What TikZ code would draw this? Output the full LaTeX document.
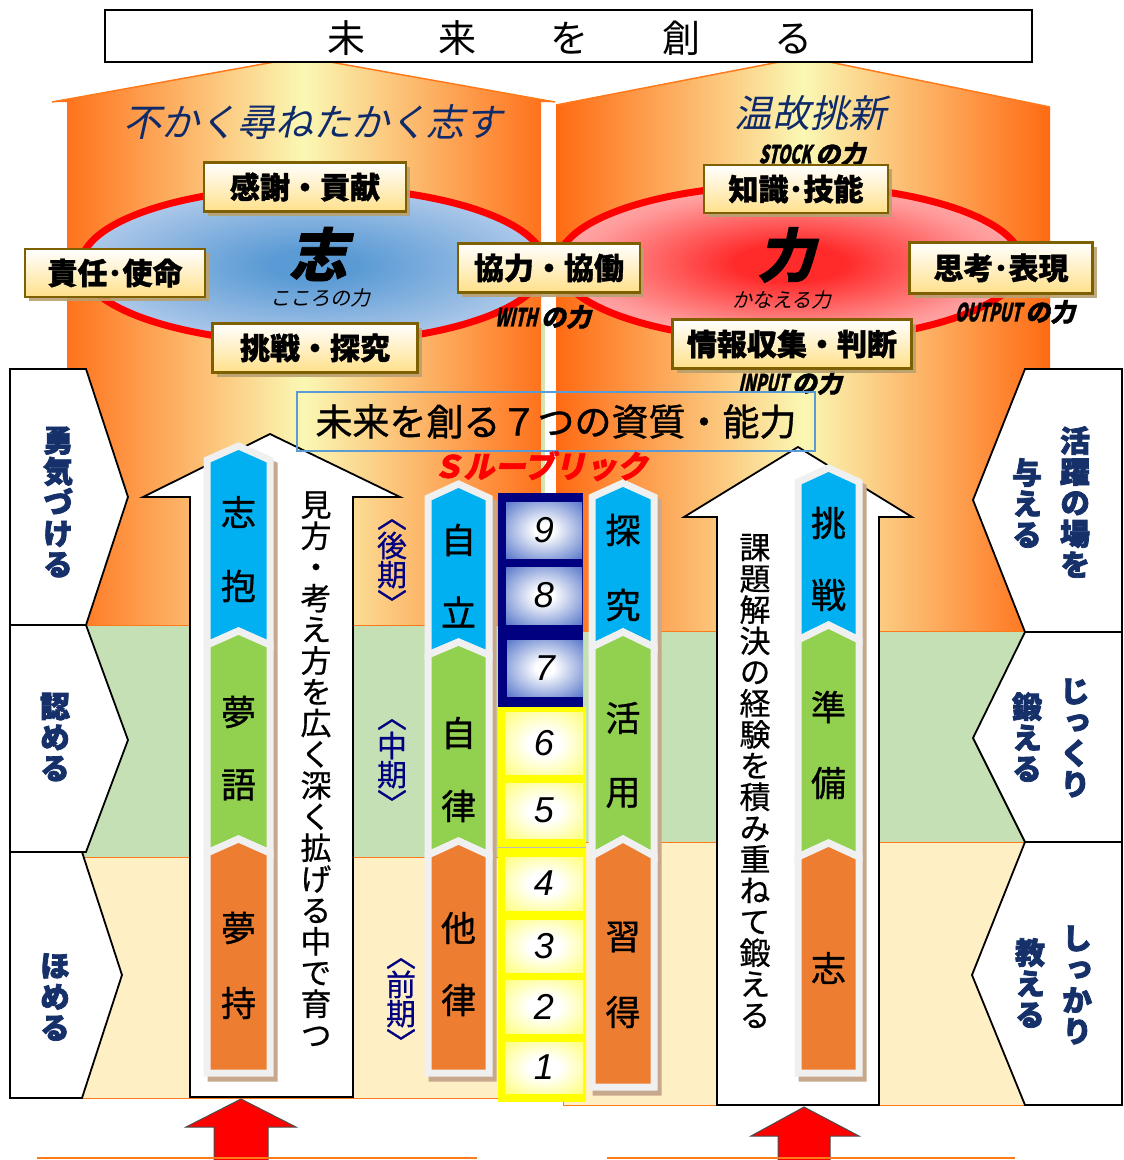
\documentclass[tikz,border=0pt]{standalone}
\usepackage{fontspec}
\setmainfont{Noto Sans CJK JP}
\newfontfamily\jp{Noto Sans CJK JP}
\newfontfamily\jpbox{Noto Sans CJK JP}[FakeBold=1.2]
\newfontfamily\jpv{Noto Sans CJK JP}[RawFeature=+vert]
\newfontfamily\jpvm{Noto Sans CJK JP}[RawFeature=+vert,FakeBold=0.6]
\newfontfamily\jpmed{Noto Sans CJK JP}[FakeBold=1.0]
\newfontfamily\jpheavy{Noto Sans CJK JP}[RawFeature=+vert,FakeBold=2.5]
\newfontfamily\jpit{Noto Sans CJK JP}[FakeSlant=0.22]
\newfontfamily\jpitb{Noto Sans CJK JP}[FakeSlant=0.22,FakeBold=1.5]
\newfontfamily\jpcond{Noto Sans CJK JP}[FakeSlant=0.22,FakeStretch=0.62,FakeBold=1.0]
\newfontfamily\numfont{Liberation Sans}
\usetikzlibrary{shadows}

\definecolor{hOr}{HTML}{FF6A13}
\definecolor{hYe}{HTML}{FAF8B4}
\definecolor{bandG}{HTML}{C5E0B4}
\definecolor{bandB}{HTML}{FFEFC5}
\definecolor{lineOr}{HTML}{FF7A1A}
\definecolor{ellB1}{HTML}{5B9BD5}
\definecolor{ellBm}{HTML}{A9C6E8}
\definecolor{ellB2}{HTML}{DFE8F5}
\definecolor{ellR1}{HTML}{FF2B2B}
\definecolor{ellRm}{HTML}{FF9A9A}
\definecolor{ellR2}{HTML}{FFD2D2}
\definecolor{lblBd}{HTML}{7F6000}
\definecolor{lblBot}{HTML}{FFE08A}
\definecolor{lblSh}{HTML}{B8A070}
\definecolor{navyT}{HTML}{16306A}
\definecolor{sBlue}{HTML}{00B0F0}
\definecolor{sGreen}{HTML}{92D050}
\definecolor{sOrange}{HTML}{ED7D31}
\definecolor{sGray}{HTML}{F0F0F0}
\definecolor{sTan}{HTML}{C7A88C}
\definecolor{colNavy}{HTML}{000080}
\definecolor{cellB}{HTML}{4A6CC6}
\definecolor{colYel}{HTML}{FFFF00}
\definecolor{cellY}{HTML}{FFFF50}
\definecolor{perNavy}{HTML}{000080}
\definecolor{boxBlue}{HTML}{5B9BD5}
\definecolor{titleNavy}{HTML}{0E2A6A}
\definecolor{paleStrip}{HTML}{D8E4B0}

\pgfdeclareradialshading{ellblue}{\pgfpoint{0bp}{0bp}}{color(0bp)=(ellB1); color(5bp)=(ellB1); color(24bp)=(ellBm); color(40bp)=(ellB2); color(50bp)=(ellB2)}
\pgfdeclareradialshading{ellred}{\pgfpoint{0bp}{0bp}}{color(0bp)=(ellR1); color(6bp)=(ellR1); color(22bp)=(ellRm); color(38bp)=(ellR2); color(50bp)=(ellR2)}
\pgfdeclareradialshading{cellblue}{\pgfpoint{0bp}{0bp}}{color(0bp)=(white); color(6bp)=(white); color(38bp)=(cellB); color(50bp)=(cellB)}
\pgfdeclareradialshading{cellyel}{\pgfpoint{0bp}{0bp}}{color(0bp)=(white); color(10bp)=(white); color(44bp)=(cellY); color(50bp)=(cellY)}

\newcommand{\stripseg}[7]{%
  \filldraw[fill=#7, draw=sGray, line width=7pt, line join=miter]
    (#1,#4) -- ({(#1+#2)/2},#3) -- (#2,#4) -- (#2,#6) -- ({(#1+#2)/2},#5) -- (#1,#6) -- cycle;}
\newcommand{\stripshadow}[4]{%
  \filldraw[fill=sTan, draw=sTan, line width=7pt, line join=miter, shift={(4,5)}]
    (#1,{#3+14}) -- ({(#1+#2)/2},#3) -- (#2,{#3+14}) -- (#2,#4) -- (#1,#4) -- cycle;}

\begin{document}
\begin{tikzpicture}[x=1pt,y=-1pt,
  lbl/.style={draw=lblBd, line width=2.5pt, top color=white, bottom color=lblBot, inner sep=0pt,
    font=\jpbox\bfseries\fontsize{30}{30}\selectfont,
    drop shadow={shadow xshift=4pt, shadow yshift=-4pt, fill=lblSh, opacity=0.9}},
  chev/.style={fill=white, draw=black, line width=1.8pt, line join=miter},
  navytxt/.style={text=navyT, align=center, inner sep=0pt, font=\jpheavy\bfseries\fontsize{30}{31}\selectfont},
  stxt/.style={inner sep=0pt, font=\jpmed\fontsize{35}{35}\selectfont},
  vtxt/.style={align=center, inner sep=0pt, font=\jpvm\fontsize{31}{31.2}\selectfont},
  per/.style={align=center, inner sep=0pt, text=perNavy, font=\jpvm\fontsize{30}{29}\selectfont},
  numN/.style={shade, shading=cellblue, minimum width=76pt, inner sep=0pt, font=\numfont\itshape\fontsize{36}{36}\selectfont},
  numY/.style={shade, shading=cellyel, minimum width=78pt, inner sep=0pt, font=\numfont\itshape\fontsize{36}{36}\selectfont},
  condlbl/.style={inner sep=0pt, font=\fontsize{25}{25}\selectfont},
  whitearrow/.style={fill=white, draw=black, line width=1.8pt, line join=miter},
  redarrow/.style={fill=red, draw=black!70, line width=1pt, line join=miter}
]
\useasboundingbox (0,0) rectangle (1124,1160);

% houses
\shade[left color=hOr, right color=hOr, middle color=hYe]
  (52,102) -- (302,57) -- (555,102) -- (541,102) -- (541,625) -- (67,625) -- (67,102) -- cycle;
\draw[lineOr, line width=1.5pt] (52,102) -- (302,57) -- (555,102);
\shade[left color=hOr, right color=hOr, middle color=hYe]
  (556,105) -- (805,57) -- (1050,107) -- (1050,631) -- (556,631) -- cycle;
\draw[lineOr, line width=1.5pt] (556,105) -- (805,57) -- (1050,107);

% bands
\filldraw[fill=bandG, draw=lineOr, line width=1pt] (67,625) rectangle (545,857);
\filldraw[fill=bandB, draw=lineOr, line width=1pt] (67,857) rectangle (545,1098);
\filldraw[fill=bandG, draw=lineOr, line width=1pt] (556,631) rectangle (1050,842);
\filldraw[fill=bandB, draw=lineOr, line width=1pt] (563,842) rectangle (1050,1105);
\fill[paleStrip] (541,323) rectangle (545,625);

% title
\node[draw=black, line width=1.8pt, fill=white, minimum width=927pt, minimum height=52pt, inner sep=0pt] (title) at (568.5,36) {};
\node[inner sep=0pt, font=\jp\fontsize{38}{38}\selectfont] (titletext) at (570,38)
  {未\hspace{74pt}来\hspace{74pt}を\hspace{74pt}創\hspace{74pt}る};

% ellipses
\shade[shading=ellblue] (313,265) ellipse [x radius=232pt, y radius=78pt];
\draw[red, line width=7pt] (313,265) ellipse [x radius=232pt, y radius=78pt];
\shade[shading=ellred] (790,263) ellipse [x radius=232pt, y radius=78pt];
\draw[red, line width=7pt] (790,263) ellipse [x radius=232pt, y radius=78pt];

% mottos
\node[inner sep=0pt, text=titleNavy, font=\jpit\fontsize{38}{38}\selectfont] (motto1) at (313,122) {不かく尋ねたかく志す};
\node[inner sep=0pt, text=titleNavy, font=\jpit\fontsize{38}{38}\selectfont] (motto2) at (810,113) {温故挑新};

% centre labels
\node[inner sep=0pt, font=\jpitb\bfseries\fontsize{58}{58}\selectfont] (kokoro) at (318,254) {志};
\node[inner sep=0pt, font=\jpit\fontsize{20}{20}\selectfont] (kokorolbl) at (320,298) {こころの力};
\node[inner sep=0pt, font=\jpitb\bfseries\fontsize{58}{58}\selectfont] (chikara) at (786,255) {力};
\node[inner sep=0pt, font=\jpit\fontsize{20}{20}\selectfont] (chikaralbl) at (782,300) {かなえる力};

% power labels
\node[condlbl] (stock) at (812,154) {{\jpcond\bfseries STOCK}\,{\jpitb\bfseries の力}};
\node[condlbl] (with) at (543,317) {{\jpcond\bfseries WITH}\,{\jpitb\bfseries の力}};
\node[condlbl] (output) at (1015,312) {{\jpcond\bfseries OUTPUT}\,{\jpitb\bfseries の力}};
\node[condlbl] (input) at (790,383) {{\jpcond\bfseries INPUT}\,{\jpitb\bfseries の力}};

% label boxes
\node[lbl, minimum width=202pt, minimum height=49pt] (kansha) at (305,187) {感謝・貢献};
\node[lbl, minimum width=180pt, minimum height=48pt] (sekinin) at (115,273) {責任･使命};
\node[lbl, minimum width=205pt, minimum height=49pt] (chosen) at (315,348) {挑戦・探究};
\node[lbl, minimum width=182pt, minimum height=49pt] (kyoryoku) at (549,268) {協力・協働};
\node[lbl, minimum width=184pt, minimum height=48pt] (chishiki) at (796,189) {知識･技能};
\node[lbl, minimum width=183pt, minimum height=51pt] (shiko) at (1001,268) {思考･表現};
\node[lbl, minimum width=239pt, minimum height=49pt] (joho) at (792,344) {情報収集・判断};

% left chevron boxes
\filldraw[chev] (10,369) -- (86,369) -- (128,497) -- (86,625) -- (10,625) -- cycle;
\filldraw[chev] (10,625) -- (86,625) -- (128,740) -- (86,852) -- (10,852) -- cycle;
\filldraw[chev] (10,852) -- (82,852) -- (122,975) -- (82,1098) -- (10,1098) -- cycle;
\node[navytxt] (yuuki) at (58,502) {勇\\気\\づ\\け\\る};
\node[navytxt] (mitomeru) at (55,737) {認\\め\\る};
\node[navytxt] (homeru) at (55,997) {ほ\\め\\る};

% right chevron boxes
\filldraw[chev] (1122,369) -- (1025,369) -- (973,500) -- (1025,632) -- (1122,632) -- cycle;
\filldraw[chev] (1122,632) -- (1025,632) -- (973,738) -- (1025,842) -- (1122,842) -- cycle;
\filldraw[chev] (1122,842) -- (1025,842) -- (972,975) -- (1025,1105) -- (1122,1105) -- cycle;
\node[navytxt] (katsuyaku) at (1075,502) {活\\躍\\の\\場\\を};
\node[navytxt] (ataeru) at (1027,503) {与\\え\\る};
\node[navytxt] (jikkuri) at (1075,738) {じ\\っ\\く\\り};
\node[navytxt] (kitaeru) at (1027,737) {鍛\\え\\る};
\node[navytxt] (shikkari) at (1077,985) {し\\っ\\か\\り};
\node[navytxt] (oshieru) at (1030,983) {教\\え\\る};

% white arrows
\filldraw[whitearrow] (190,1097) -- (190,497) -- (143,497) -- (270,434) -- (400,497) -- (353,497) -- (353,1097) -- cycle;
\filldraw[whitearrow] (717,1105) -- (717,517) -- (684,517) -- (798,447) -- (912,517) -- (879,517) -- (879,1105) -- cycle;

% number column
\fill[colNavy] (498,493) rectangle (583,707);
\fill[colYel] (498,707) rectangle (586,1102);
\node[numN, minimum height=56pt] (n9) at (544,530) {9};
\node[numN, minimum height=57pt] (n8) at (544,595.5) {8};
\node[numN, minimum height=56pt] (n7) at (545,668) {7};
\node[numY, minimum height=62pt] (n6) at (544,743.5) {6};
\node[numY, minimum height=55pt] (n5) at (544,810.5) {5};
\node[numY, minimum height=53pt] (n4) at (544,883.5) {4};
\node[numY, minimum height=52pt] (n3) at (544,946) {3};
\node[numY, minimum height=53pt] (n2) at (544,1006.5) {2};
\node[numY, minimum height=51pt] (n1) at (544,1067.5) {1};
\draw[black!25, line width=1pt] (498,847) -- (586,847);

% strips: shadows
\stripshadow{207}{270}{446}{1073}
\stripshadow{428}{489}{484}{1073}
\stripshadow{592}{654}{483}{1087}
\stripshadow{798}{859}{468}{1073}

% strip L
\stripseg{207}{270}{446}{460}{631}{645}{sBlue}
\stripseg{207}{270}{631}{645}{839}{853}{sGreen}
\stripseg{207}{270}{839}{853}{1073}{1073}{sOrange}
% strip CL
\stripseg{428}{489}{484}{498}{642}{655}{sBlue}
\stripseg{428}{489}{642}{655}{841}{855}{sGreen}
\stripseg{428}{489}{841}{855}{1073}{1073}{sOrange}
% strip CR
\stripseg{592}{654}{483}{497}{632}{647}{sBlue}
\stripseg{592}{654}{632}{647}{839}{856}{sGreen}
\stripseg{592}{654}{839}{856}{1087}{1087}{sOrange}
% strip R
\stripseg{798}{859}{468}{482}{625}{640}{sBlue}
\stripseg{798}{859}{625}{640}{843}{857}{sGreen}
\stripseg{798}{859}{843}{857}{1073}{1073}{sOrange}

% strip texts
\node[stxt] (a1) at (238.5,512) {志};
\node[stxt] (a2) at (238.5,586) {抱};
\node[stxt] (a3) at (238.5,712) {夢};
\node[stxt] (a4) at (238.5,785) {語};
\node[stxt] (a5) at (238.5,928) {夢};
\node[stxt] (a6) at (238.5,1003) {持};
\node[stxt] (b1) at (458.5,540) {自};
\node[stxt] (b2) at (458.5,612) {立};
\node[stxt] (b3) at (458.5,733) {自};
\node[stxt] (b4) at (458.5,806) {律};
\node[stxt] (b5) at (458.5,928) {他};
\node[stxt] (b6) at (458.5,1000) {律};
\node[stxt] (c1) at (623,530) {探};
\node[stxt] (c2) at (623,605) {究};
\node[stxt] (c3) at (623,718) {活};
\node[stxt] (c4) at (623,793) {用};
\node[stxt] (c5) at (623,937) {習};
\node[stxt] (c6) at (623,1012) {得};
\node[stxt] (d1) at (828.5,523) {挑};
\node[stxt] (d2) at (828.5,595) {戦};
\node[stxt] (d3) at (828.5,707) {準};
\node[stxt] (d4) at (828.5,783) {備};
\node[stxt] (d5) at (828.5,968) {志};

% vertical texts in arrows
\node[vtxt] (mikata) at (316,769) {見\\方\\・\\考\\え\\方\\を\\広\\く\\深\\く\\拡\\げ\\る\\中\\で\\育\\つ};
\node[vtxt] (kadai) at (755,781) {課\\題\\解\\決\\の\\経\\験\\を\\積\\み\\重\\ね\\て\\鍛\\え\\る};

% periods
\node[per] (kouki) at (392,567) {〈\\後\\期\\〉};
\node[per] (chuuki) at (392,767) {〈\\中\\期\\〉};
\node[per] (zenki) at (401,1006) {〈\\前\\期\\〉};

% qualities box
\node[draw=boxBlue, line width=1.5pt, minimum width=518pt, minimum height=59pt, inner sep=0pt,
  font=\jpmed\fontsize{37}{37}\selectfont] (qbox) at (556,421.5) {未来を創る７つの資質・能力};
\node[inner sep=0pt, text=red, font=\jpitb\bfseries\fontsize{31}{31}\selectfont] (srub) at (540,466) {Ｓルーブリック};

% red arrows
\filldraw[redarrow] (214,1161) -- (214,1127) -- (186,1127) -- (241,1099) -- (296,1127) -- (268,1127) -- (268,1161);
\filldraw[redarrow] (778,1161) -- (778,1136) -- (751,1136) -- (804,1107) -- (859,1136) -- (830,1136) -- (830,1161);
\draw[lineOr, line width=2pt] (37,1158) -- (477,1158);
\draw[lineOr, line width=2pt] (607,1158) -- (1015,1158);
\end{tikzpicture}
\end{document}
